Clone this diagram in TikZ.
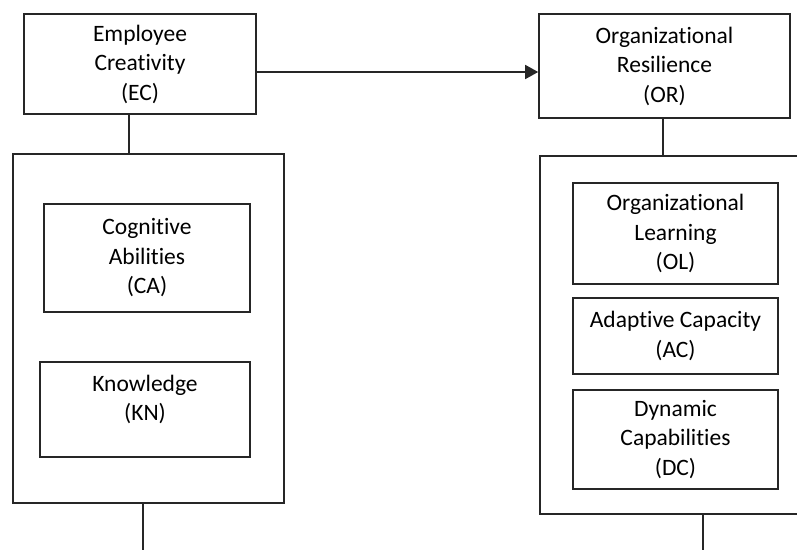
\documentclass[tikz,border=0pt]{standalone}
\usepackage{fontspec}
\setmainfont{Carlito}[Ligatures={NoCommon}]
\usetikzlibrary{arrows.meta,calc}
\begin{document}
\begin{tikzpicture}[x=1pt,y=-1pt,
  box/.style={draw=black!85,line width=1.6pt,inner sep=0pt,align=center,
    font=\fontsize{23.5}{29.5}\selectfont},
  link/.style={draw=black!85,line width=1.6pt},
  arr/.style={link,-{Triangle[length=13pt,width=14pt]}}]
\useasboundingbox (0,0) rectangle (797,549);
\clip (0,0) rectangle (797,549);
% top boxes
\node[box,minimum width=232pt,minimum height=100pt] (EC) at (140,64) {Employee\\Creativity\\(EC)};
\node[box,minimum width=251pt,minimum height=104pt] (OR) at (664.5,66) {Organizational\\Resilience\\(OR)};
% group boxes
\node[box,minimum width=271pt,minimum height=349pt] (LB) at (148.5,328.5) {};
\node[box,minimum width=280pt,minimum height=358pt,anchor=north west] (RB) at (539,155) {};
% inner boxes left
\node[box,minimum width=206pt,minimum height=108pt] (CA) at (147,258) {Cognitive\\Abilities\\(CA)};
\node[box,minimum width=210pt,minimum height=95pt] (KN) at (145,409.5) {Knowledge\\(KN)\\[-15pt]\strut};
% inner boxes right
\node[box,minimum width=205pt,minimum height=101pt] (OL) at (675.5,233.5) {Organizational\\Learning\\(OL)};
\node[box,minimum width=205pt,minimum height=76pt] (AC) at (675.5,336) {Adaptive Capacity\\(AC)};
\node[box,minimum width=205pt,minimum height=99pt] (DC) at (675.5,439.5) {Dynamic\\Capabilities\\(DC)};
% free ends
\coordinate (LEnd) at (143,560);
\coordinate (REnd) at (703,560);
% connectors
\draw[arr] ($(EC.east)+(0,8)$) -- ($(OR.west)+(0,6)$);
\draw[link] (EC.south -| 129,0) -- (LB.north -| 129,0);
\draw[link] (OR.south -| 663,0) -- (RB.north -| 663,0);
\draw[link] (LB.south -| LEnd) -- (LEnd);
\draw[link] (RB.south -| REnd) -- (REnd);
\end{tikzpicture}
\end{document}
